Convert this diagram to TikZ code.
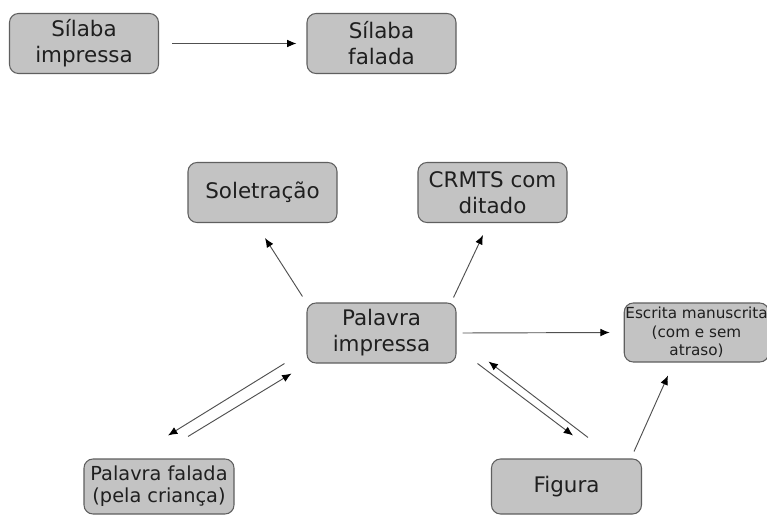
\documentclass[tikz,border=0pt]{standalone}
\usepackage{fontspec}
\setmainfont{DejaVu Sans}
\usetikzlibrary{arrows.meta}

\definecolor{boxfill}{RGB}{195,195,195}
\definecolor{boxline}{RGB}{95,95,95}
\definecolor{arrline}{RGB}{80,80,80}

\begin{document}
\begin{tikzpicture}[x=0.3mm, y=-0.3mm,
  every node/.style={text=black!88},
  termbox/.style={rectangle, draw=boxline, line width=0.9pt, rounded corners=2.7mm,
    fill=boxfill, minimum width=44.7mm, minimum height=18mm, align=center,
    inner sep=1pt, font=\fontsize{18.3}{22.2}\selectfont},
  smallbox/.style={termbox, minimum width=42.3mm, minimum height=17.7mm,
    font=\fontsize{13}{15.8}\selectfont},
  lowbox/.style={termbox, minimum width=45mm, minimum height=16.5mm},
  link/.style={-{Latex[length=2.8mm, width=2.3mm, color=black]}, draw=arrline, line width=0.8pt},
]

% Frame
\fill[white] (0,0) rectangle (767,515);
\useasboundingbox (0,0) rectangle (767,515);

% Syllables
\node[termbox] (silimp) at (84,43.5) {Sílaba\\impressa};
\node[termbox] (silfal) at (381.5,43.5) {Sílaba\\falada};

% Word relations
\node[termbox] (solet) at (262.5,192.5) {Soletração};
\node[termbox] (crmts) at (492.5,192.5) {CRMTS com\\ditado};
\node[termbox] (palimp) at (381.5,333) {Palavra\\impressa};
\node[smallbox] (escr) at (696.5,332.5) {Escrita manuscrita\\(com e sem\\atraso)};
\node[lowbox, font=\fontsize{16.5}{19}\selectfont] (palfal) at (159,486.5)
  {Palavra falada\\(pela criança)};
\node[lowbox] (fig) at (566.5,486.5) {Figura};

% Single arrows
\draw[link] ([shift={(13,0)}]silimp.east) -- ([shift={(-10,0)}]silfal.west);
\draw[link] ([shift={(-4,-6)}]palimp.north west) -- ([shift={(2.5,15)}]solet.south);
\draw[link] ([shift={(-3,-5)}]palimp.north east) -- ([shift={(-9.5,12)}]crmts.south);
\draw[link] ([shift={(6,0)}]palimp.east) -- ([shift={(-14,0)}]escr.west);
\draw[link] ([shift={(-8,-7)}]fig.north east) -- ([shift={(-28.5,13)}]escr.south);

% Double arrows
\draw[link] ([shift={(-22,0)}]palimp.south west) -- ([shift={(9,-23)}]palfal.north);
\draw[link] ([shift={(29,-22)}]palfal.north) -- ([shift={(-15,10)}]palimp.south west);
\draw[link] ([shift={(21.5,-21)}]fig.north) -- ([shift={(32,-2)}]palimp.south east);
\draw[link] ([shift={(21,0)}]palimp.south east) -- ([shift={(6.5,-23)}]fig.north);

\end{tikzpicture}
\end{document}
